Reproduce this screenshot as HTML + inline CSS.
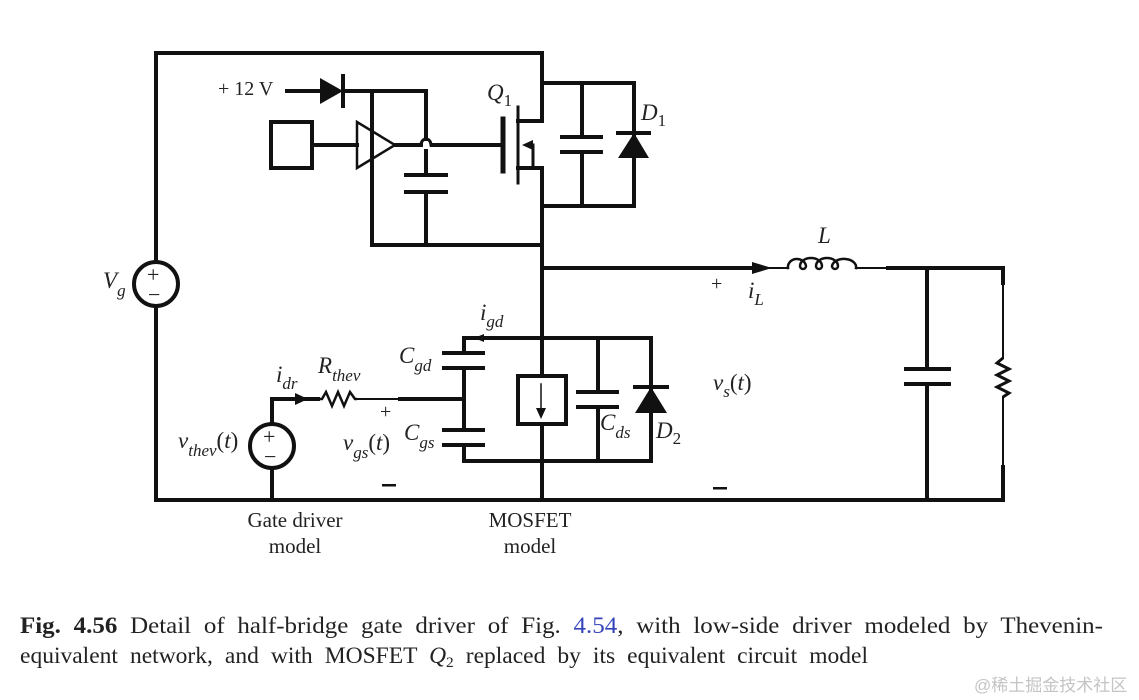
<!DOCTYPE html>
<html><head><meta charset="utf-8"><style>
body{margin:0;background:#fff;}
svg{display:block}
.t{font-family:"Liberation Serif",serif;fill:#222;}
.i{font-family:"Liberation Serif",serif;font-style:italic;fill:#222;}
</style></head><body>
<svg width="1139" height="700" viewBox="0 0 1139 700" xmlns="http://www.w3.org/2000/svg">
<g stroke="#111" stroke-width="4" fill="none" stroke-linecap="square">
<polyline points="156,262 156,53 542,53 542,121 518,121"/>
<polyline points="518,168 542,168 542,500"/>
<line x1="156" y1="306" x2="156" y2="500"/>
<line x1="156" y1="500" x2="1003" y2="500"/>
<line x1="518" y1="107" x2="518" y2="183" stroke-width="3"/>
<line x1="503" y1="119" x2="503" y2="171" stroke-width="5"/>
<line x1="432" y1="145" x2="503" y2="145"/>
<polyline points="528,145 533,145 533,168" stroke-width="3"/>
<polyline points="542,83 634,83 634,206 542,206"/>
<line x1="582" y1="83" x2="582" y2="137"/>
<line x1="582" y1="152" x2="582" y2="206"/>
<line x1="562" y1="137" x2="601" y2="137"/>
<line x1="562" y1="152" x2="601" y2="152"/>
<line x1="618" y1="133" x2="649" y2="133"/>
<line x1="287" y1="91" x2="320" y2="91"/>
<line x1="343" y1="76" x2="343" y2="106"/>
<polyline points="343,91 426,91 426,139"/>
<line x1="372" y1="91" x2="372" y2="245"/>
<polyline points="426,151 426,175"/>
<line x1="426" y1="192" x2="426" y2="245"/>
<line x1="406" y1="175" x2="446" y2="175"/>
<line x1="406" y1="192" x2="446" y2="192"/>
<line x1="372" y1="245" x2="542" y2="245"/>
<rect x="271" y="122" width="41" height="46"/>
<line x1="312" y1="145" x2="357" y2="145"/>
<polygon points="357,122 357,168 395,145" stroke-width="2.5"/>
<line x1="395" y1="145" x2="421" y2="145"/>
<path d="M421,145 A5,6 0 0 1 431,145" stroke-width="3"/>
<line x1="542" y1="268" x2="762" y2="268"/>
<line x1="762" y1="268" x2="788" y2="268" stroke-width="2"/>
<path d="M788,268 A9,8 0 0 1 806,266 A3,3 0 0 1 800,266 A11,8 0 0 1 822,266 A3,3 0 0 1 816,266 A11,8 0 0 1 838,266 A3,3 0 0 1 832,266 A12,8 0 0 1 856,268" stroke-width="2.5"/>
<line x1="856" y1="268" x2="888" y2="268" stroke-width="2"/>
<polyline points="888,268 1003,268 1003,283"/>
<line x1="1003" y1="283" x2="1003" y2="358" stroke-width="2"/>
<polyline points="1003,358 997,363 1009,369 997,375 1009,381 997,387 1009,393 1003,397" stroke-width="3" stroke-linecap="butt"/>
<line x1="1003" y1="397" x2="1003" y2="467" stroke-width="2"/>
<line x1="1003" y1="467" x2="1003" y2="500"/>
<line x1="927" y1="268" x2="927" y2="369"/>
<line x1="927" y1="384" x2="927" y2="500"/>
<line x1="906" y1="369" x2="949" y2="369"/>
<line x1="906" y1="384" x2="949" y2="384"/>
<polyline points="464,353 464,338 651,338 651,461 464,461 464,445"/>
<line x1="464" y1="368" x2="464" y2="430"/>
<line x1="444" y1="353" x2="483" y2="353"/>
<line x1="444" y1="368" x2="483" y2="368"/>
<line x1="444" y1="430" x2="483" y2="430"/>
<line x1="444" y1="445" x2="483" y2="445"/>
<rect x="518" y="376" width="48" height="48" fill="#fff"/>
<line x1="541" y1="384" x2="541" y2="410" stroke-width="1.5"/>
<line x1="598" y1="338" x2="598" y2="392"/>
<line x1="598" y1="407" x2="598" y2="461"/>
<line x1="578" y1="392" x2="617" y2="392"/>
<line x1="578" y1="407" x2="617" y2="407"/>
<line x1="635" y1="387" x2="667" y2="387"/>
<polyline points="272,424 272,399 318,399"/>
<polyline points="318,399 322,399 326,392 332,406 338,392 344,406 350,392 355,399 357,399" stroke-width="2.5" stroke-linecap="butt"/>
<line x1="357" y1="399" x2="400" y2="399" stroke-width="2"/>
<line x1="400" y1="399" x2="464" y2="399"/>
<line x1="272" y1="468" x2="272" y2="500"/>
<circle cx="156" cy="284" r="22"/>
<circle cx="272" cy="446" r="22"/>
</g>
<g fill="#111">
<polygon points="320,78 320,104 343,91"/>
<polygon points="618,158 649,158 634,133"/>
<polygon points="635,413 667,413 651,387"/>
<polygon points="533,140 533,150 522,145"/>
<polygon points="752,262 752,274 772,268"/>
<polygon points="484,334 484,342 474,338"/>
<polygon points="295,393 295,405 308,399"/>
<polygon points="536,408 546,408 541,419"/>
</g>
<g class="t" font-size="20">
<text x="218" y="95">+ 12 V</text>
<text x="147" y="282" font-size="22">+</text>
<text x="148" y="302" font-size="22">−</text>
<text x="263" y="444" font-size="22">+</text>
<text x="264" y="464" font-size="22">−</text>
<text x="711" y="290">+</text>
<text x="380" y="418">+</text>
<rect x="382" y="484" width="14" height="2.5" fill="#111"/>
<rect x="713" y="487" width="14" height="2.5" fill="#111"/>
<text x="295" y="527" text-anchor="middle" font-size="21">Gate driver</text>
<text x="295" y="553" text-anchor="middle" font-size="21">model</text>
<text x="530" y="527" text-anchor="middle" font-size="21">MOSFET</text>
<text x="530" y="553" text-anchor="middle" font-size="21">model</text>
</g>
<g class="i" font-size="23">
<text x="487" y="100">Q<tspan font-style="normal" font-size="17" dy="6">1</tspan></text>
<text x="641" y="120">D<tspan font-style="normal" font-size="17" dy="6">1</tspan></text>
<text x="103" y="288">V<tspan font-size="17" dy="8">g</tspan></text>
<text x="818" y="243">L</text>
<text x="748" y="298">i<tspan font-size="17" dy="7">L</tspan></text>
<text x="480" y="320">i<tspan font-size="17" dy="7">gd</tspan></text>
<text x="399" y="363">C<tspan font-size="17" dy="8">gd</tspan></text>
<text x="318" y="373">R<tspan font-size="17" dy="8">thev</tspan></text>
<text x="276" y="382">i<tspan font-size="17" dy="7">dr</tspan></text>
<text x="404" y="440">C<tspan font-size="17" dy="8">gs</tspan></text>
<text x="343" y="450">v<tspan font-size="17" dy="8">gs</tspan><tspan font-style="normal" dy="-8">(</tspan>t<tspan font-style="normal">)</tspan></text>
<text x="178" y="448">v<tspan font-size="17" dy="8">thev</tspan><tspan font-style="normal" dy="-8">(</tspan>t<tspan font-style="normal">)</tspan></text>
<text x="600" y="430">C<tspan font-size="17" dy="8">ds</tspan></text>
<text x="656" y="438">D<tspan font-style="normal" font-size="17" dy="6">2</tspan></text>
<text x="713" y="390">v<tspan font-size="17" dy="7">s</tspan><tspan font-style="normal" dy="-7">(</tspan>t<tspan font-style="normal">)</tspan></text>
</g>
<g class="t" font-size="23" word-spacing="6">
<text x="20" y="633" textLength="1083" lengthAdjust="spacingAndGlyphs"><tspan font-weight="bold">Fig. 4.56</tspan>   Detail of half-bridge gate driver of Fig. <tspan fill="#3344bb">4.54</tspan>, with low-side driver modeled by Thevenin-</text>
<text x="20" y="663" textLength="848" lengthAdjust="spacingAndGlyphs">equivalent network, and with MOSFET <tspan font-style="italic">Q</tspan><tspan font-size="15" dy="4">2</tspan><tspan dy="-4"> replaced by its equivalent circuit model</tspan></text>
</g>
<text x="974" y="691" font-family="'Liberation Sans','Noto Sans CJK SC',sans-serif" font-size="17" fill="#c4c4c4">@稀土掘金技术社区</text>
</svg>
</body></html>
